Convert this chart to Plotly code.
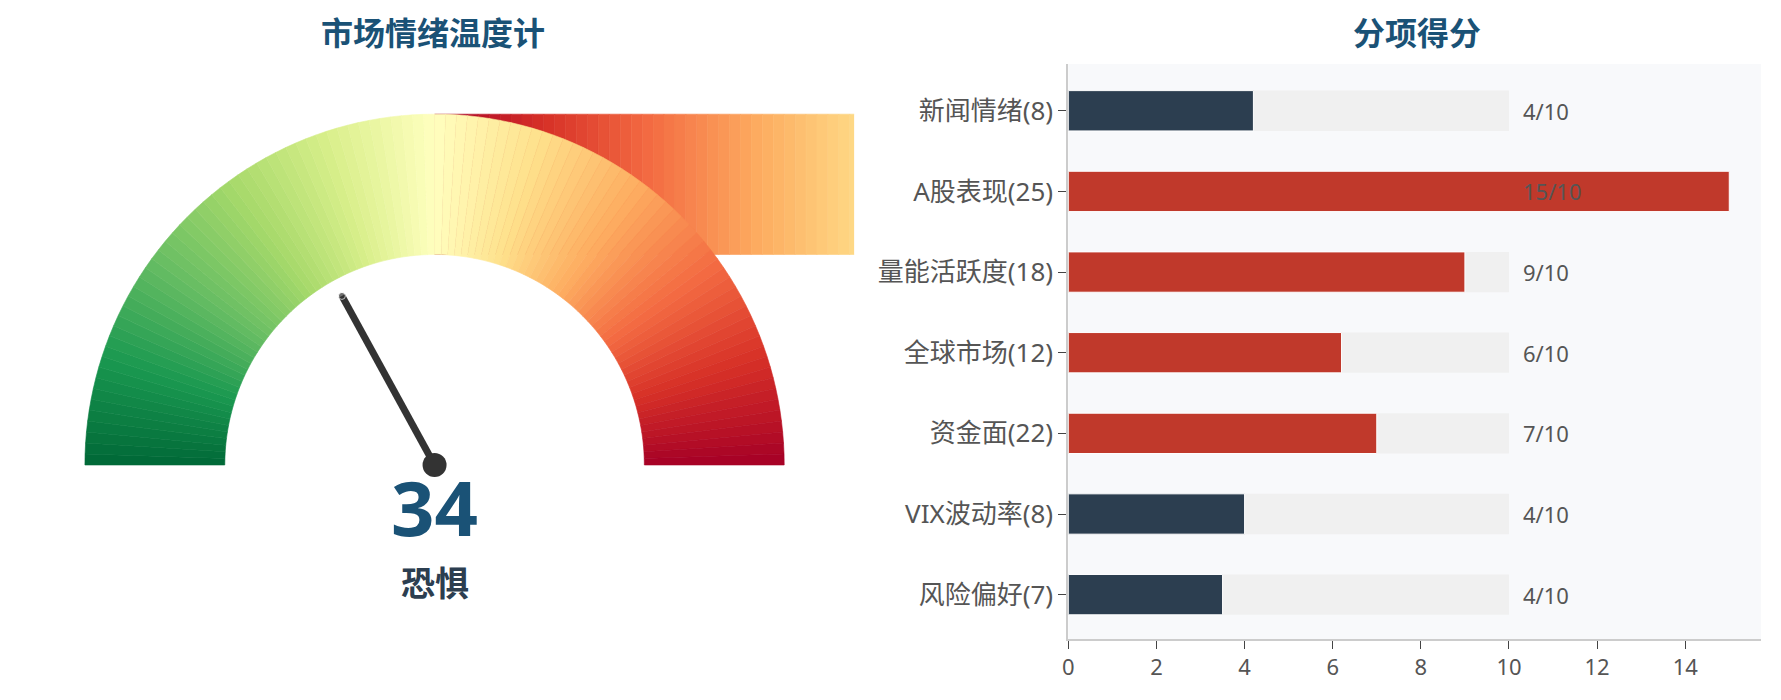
import numpy as np
import plotly.graph_objects as go
from plotly.colors import sample_colorscale

# ---------------- data ----------------
score = 34
mood = "恐惧"
gauge_values = list(range(0, 100))          # one wedge per point of the 0-100 scale
band_values = list(range(100, 61, -1))       # stray colour band drawn behind the gauge
categories = ["新闻情绪(8)", "A股表现(25)", "量能活跃度(18)", "全球市场(12)",
              "资金面(22)", "VIX波动率(8)", "风险偏好(7)"]
values = [4.2, 15.0, 9.0, 6.2, 7.0, 4.0, 3.5]
full_scale = [10, 10, 10, 10, 10, 10, 10]
score_labels = ["4/10", "15/10", "9/10", "6/10", "7/10", "4/10", "4/10"]
x_ticks = [0, 2, 4, 6, 8, 10, 12, 14]
left_title = "市场情绪温度计"
right_title = "分项得分"

# ---------------- styling ----------------
FONT = "Noto Sans, Noto Sans CJK SC, sans-serif"
TITLE_COLOR = "#1a5276"
R_OUT, R_IN = 1.0, 0.6
NEEDLE_LEN = 0.55
RED, DARK = "#c0392b", "#2c3e50"


def val_color(v):
    return sample_colorscale("RdYlGn", [min(max(1 - v / 100.0, 0), 1)])[0]


fig = go.Figure()

# stray band (behind gauge)
band_w = 1.0 / 32
for k, v in enumerate(band_values):
    x0, x1 = k * band_w, (k + 1) * band_w
    c = val_color(v - 0.5)
    fig.add_trace(go.Scatter(
        x=[x0, x1, x1, x0, x0], y=[R_IN, R_IN, R_OUT, R_OUT, R_IN],
        mode="lines", fill="toself", fillcolor=c, line=dict(color=c, width=0.6),
        hoverinfo="skip", showlegend=False, xaxis="x", yaxis="y"))

# gauge wedges
for v in gauge_values:
    a0 = np.pi * (1 - v / 100.0)
    a1 = np.pi * (1 - (v + 1) / 100.0)
    t = np.linspace(a0, a1, 6)
    xs = np.concatenate([R_OUT * np.cos(t), R_IN * np.cos(t[::-1]), [R_OUT * np.cos(t[0])]])
    ys = np.concatenate([R_OUT * np.sin(t), R_IN * np.sin(t[::-1]), [R_OUT * np.sin(t[0])]])
    c = val_color(v + 0.5)
    fig.add_trace(go.Scatter(
        x=xs, y=ys, mode="lines", fill="toself", fillcolor=c,
        line=dict(color=c, width=0.6), hoverinfo="skip", showlegend=False,
        xaxis="x", yaxis="y"))

# needle
ang = np.pi * (1 - score / 100.0)
fig.add_trace(go.Scatter(
    x=[0, NEEDLE_LEN * np.cos(ang)], y=[0, NEEDLE_LEN * np.sin(ang)],
    mode="lines+markers", line=dict(color="#333333", width=7),
    marker=dict(size=[7, 7], color="#333333"),
    hoverinfo="skip", showlegend=False, xaxis="x", yaxis="y"))
fig.add_trace(go.Scatter(
    x=[0], y=[0], mode="markers", marker=dict(size=24, color="#333333"),
    hoverinfo="skip", showlegend=False, xaxis="x", yaxis="y"))

# bars
fig.add_trace(go.Bar(
    y=categories, x=full_scale, orientation="h", width=0.5,
    marker=dict(color="#f0f0f0", line=dict(width=0)),
    hoverinfo="skip", showlegend=False, xaxis="x2", yaxis="y2"))
fig.add_trace(go.Bar(
    y=categories, x=values, orientation="h", width=0.5,
    marker=dict(color=[RED if v > 5 else DARK for v in values],
                line=dict(color="white", width=1)),
    showlegend=False, xaxis="x2", yaxis="y2"))

annotations = []
for cat, lab in zip(categories, score_labels):
    annotations.append(dict(
        x=full_scale[0], y=cat, xref="x2", yref="y2", text=lab,
        xanchor="left", yanchor="middle", xshift=12, showarrow=False,
        font=dict(family=FONT, size=22, color="#555555")))

annotations += [
    dict(x=0, y=-0.117, xref="x", yref="y", text=f"<b>{score}</b>", showarrow=False,
         xanchor="center", yanchor="middle",
         font=dict(family=FONT, size=76, color=TITLE_COLOR)),
    dict(x=0, y=-0.336, xref="x", yref="y", text=f"<b>{mood}</b>", showarrow=False,
         xanchor="center", yanchor="middle",
         font=dict(family=FONT, size=34, color="#2c3e50")),
    dict(x=0.2395, y=1.0548, xref="paper", yref="paper", text=f"<b>{left_title}</b>",
         showarrow=False, xanchor="center", yanchor="middle",
         font=dict(family=FONT, size=32, color=TITLE_COLOR)),
    dict(x=0.803, y=1.0548, xref="paper", yref="paper", text=f"<b>{right_title}</b>",
         showarrow=False, xanchor="center", yanchor="middle",
         font=dict(family=FONT, size=32, color=TITLE_COLOR)),
]

fig.update_layout(
    width=1765, height=684, autosize=False,
    margin=dict(l=1, r=12, t=56, b=53),
    paper_bgcolor="white", plot_bgcolor="white",
    barmode="overlay", bargap=0.5,
    font=dict(family=FONT, size=22, color="#555555"),
    xaxis=dict(domain=[0, 0.4806], range=[-1.2, 1.2], visible=False, fixedrange=True),
    yaxis=dict(domain=[0, 1], range=[-0.496, 1.143], visible=False, fixedrange=True),
    xaxis2=dict(domain=[0.6033, 1], anchor="y2", range=[0, 15.72],
                tickvals=x_ticks, showgrid=False, zeroline=False,
                showline=True, linecolor="#cccccc", linewidth=2,
                ticks="outside", ticklen=8, tickcolor="#444444", tickwidth=1,
                tickfont=dict(family=FONT, size=22, color="#555555")),
    yaxis2=dict(domain=[0, 1], anchor="x2", categoryorder="array",
                categoryarray=categories, range=[6.55, -0.58],
                showgrid=False, zeroline=False,
                showline=True, linecolor="#cccccc", linewidth=2,
                ticks="outside", ticklen=8, tickcolor="#444444", tickwidth=1,
                tickfont=dict(family=FONT, size=26, color="#555555")),
    shapes=[dict(type="rect", xref="x2 domain", yref="y2 domain",
                 x0=0, x1=1, y0=0, y1=1, fillcolor="#f8f9fb",
                 line=dict(width=0), layer="below")],
    annotations=annotations,
)

fig.write_html("out.html")
